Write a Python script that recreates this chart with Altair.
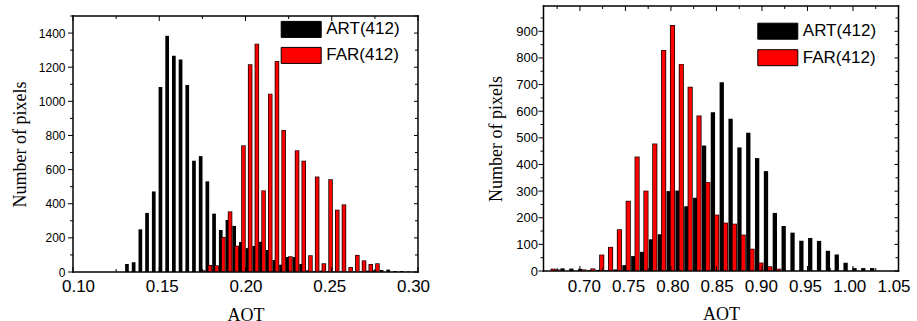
import altair as alt
import pandas as pd

SERIES = ["ART(412)", "FAR(412)"]
COLORS = ["#000000", "#ff0000"]

# ---- left panel (bin centres, counts) ----
left_aot = [0.130, 0.134, 0.138, 0.142, 0.146, 0.150, 0.154, 0.158, 0.162, 0.166,
            0.170, 0.174, 0.178, 0.182, 0.186, 0.190, 0.194, 0.198, 0.202, 0.206,
            0.210, 0.214, 0.218, 0.222, 0.226, 0.230, 0.234, 0.238, 0.242, 0.246,
            0.250, 0.254, 0.258, 0.262, 0.266, 0.270, 0.274, 0.278, 0.282, 0.286,
            0.290, 0.294, 0.298]
left_art = [47, 57, 250, 346, 472, 1084, 1384, 1267, 1245, 1095,
            652, 679, 531, 342, 246, 305, 270, 176, 140, 153,
            177, 129, 70, 43, 88, 88, 47, 10, 5, 8,
            4, 3, 3, 2, 3, 4, 8, 10, 12, 14,
            6, 6, 3]
left_far = [0, 0, 0, 0, 0, 0, 0, 0, 0, 0,
            0, 6, 37, 35, 201, 351, 150, 738, 1213, 1334,
            474, 1041, 1232, 828, 88, 709, 648, 94, 555, 47,
            539, 361, 392, 25, 96, 64, 43, 47, 0, 0,
            0, 0, 0]

# ---- right panel ----
right_aot = [0.663, 0.668, 0.678, 0.688, 0.698, 0.708, 0.718, 0.728, 0.738, 0.748,
             0.758, 0.768, 0.778, 0.788, 0.798, 0.808, 0.818, 0.828, 0.838, 0.848,
             0.858, 0.868, 0.878, 0.888, 0.898, 0.908, 0.918, 0.928, 0.938, 0.948,
             0.958, 0.968, 0.978, 0.988, 0.998, 1.008, 1.018, 1.028]
right_art = [0, 2, 10, 9, 8, 3, 4, 3, 6, 22,
             56, 72, 119, 138, 300, 302, 243, 275, 471, 596,
             709, 572, 464, 519, 424, 375, 218, 169, 144, 114,
             124, 113, 76, 62, 31, 11, 11, 11]
right_far = [6, 3, 0, 0, 3, 7, 59, 88, 154, 261,
             427, 299, 476, 827, 921, 775, 689, 581, 331, 209,
             179, 175, 134, 81, 29, 15, 6, 0, 0, 0,
             0, 0, 0, 0, 0, 0, 0, 0]

# tick positions (major = labelled, minor = unlabelled)
left_x_major = [0.10, 0.15, 0.20, 0.25, 0.30]
left_x_minor = [0.125, 0.175, 0.225, 0.275]
left_y_major = [0, 200, 400, 600, 800, 1000, 1200, 1400]
left_y_minor = [100, 300, 500, 700, 900, 1100, 1300, 1500]
right_x_major = [0.70, 0.75, 0.80, 0.85, 0.90, 0.95, 1.00, 1.05]
right_x_minor = [0.675, 0.725, 0.775, 0.825, 0.875, 0.925, 0.975, 1.025]
right_y_major = [0, 100, 200, 300, 400, 500, 600, 700, 800, 900]
right_y_minor = [50, 150, 250, 350, 450, 550, 650, 750, 850, 950]


def make_df(aot, art, far):
    rows = []
    for a, c in zip(aot, art):
        rows.append({"aot": a, "count": c, "series": SERIES[0]})
    for a, c in zip(aot, far):
        rows.append({"aot": a, "count": c, "series": SERIES[1]})
    return pd.DataFrame(rows)


SANS = "Liberation Sans"
SERIF = "Liberation Serif"


def panel(df, xdom, ydom, W, H, top, xmaj, xmin, ymaj, ymin, ylabfs, ylabpad,
          xlabpad, xtitlepad, ytitlepad, legX, legY, rowpad, barw, off):
    xs = alt.Scale(domain=xdom, nice=False, zero=False)
    ys = alt.Scale(domain=ydom, nice=False, zero=True, range=[H, top])
    legend = alt.Legend(
        title=None, orient="none", legendX=legX, legendY=legY, padding=0,
        rowPadding=rowpad, symbolType="M-2.5,-1H2.5V1H-2.5Z", symbolSize=256,
        symbolStrokeColor="black", symbolStrokeWidth=1, symbolOpacity=1,
        labelFont=SANS, labelFontSize=17, labelOffset=16.5, labelColor="black",
    )
    color = alt.Color("series:N", scale=alt.Scale(domain=SERIES, range=COLORS),
                      legend=legend)
    base = alt.Chart(df).transform_filter(alt.datum["count"] > 0)
    art = base.transform_filter(alt.datum.series == SERIES[0]).mark_bar(
        orient="vertical", width=barw, xOffset=-off
    ).encode(
        x=alt.X("aot:Q", scale=xs, axis=alt.Axis(
            title="AOT", values=xmaj, format=".2f",
            ticks=False, domain=False, grid=False,
            labelFont=SANS, labelFontSize=17, labelPadding=xlabpad,
            labelFlush=False, labelOverlap=False, labelColor="black",
            titleFont=SERIF, titleFontSize=18, titleFontWeight="normal",
            titlePadding=xtitlepad, titleColor="black")),
        y=alt.Y("count:Q", scale=ys, axis=alt.Axis(
            title="Number of pixels", values=ymaj, format="d",
            ticks=False, domain=False, grid=False,
            labelFont=SANS, labelFontSize=ylabfs, labelPadding=ylabpad,
            labelOverlap=False, labelColor="black",
            titleFont=SERIF, titleFontSize=18, titleFontWeight="normal",
            titlePadding=ytitlepad, titleColor="black")),
        color=color,
    )
    # red bars with a dark outline: dark bar underneath, slightly larger
    far_sel = base.transform_filter(alt.datum.series == SERIES[1])
    far_edge = far_sel.mark_bar(
        orient="vertical", width=barw + 0.8, xOffset=off, yOffset=-0.7,
        color="#1a0000", opacity=1
    ).encode(
        x=alt.X("aot:Q", scale=xs, axis=None),
        y=alt.Y("count:Q", scale=ys, axis=None),
    )
    far = far_sel.mark_bar(
        orient="vertical", width=barw - 0.8, xOffset=off
    ).encode(
        x=alt.X("aot:Q", scale=xs, axis=None),
        y=alt.Y("count:Q", scale=ys, axis=None),
        color=color,
    )

    def xticks(values, yval, L, up):
        return alt.Chart(pd.DataFrame({"v": values})).mark_tick(
            orient="vertical", size=L, thickness=1, color="black", opacity=1,
            yOffset=(-L / 2 if up else L / 2)
        ).encode(
            x=alt.X("v:Q", scale=xs, axis=None),
            y=alt.YDatum(yval, scale=ys, axis=None),
        )

    def yticks(values, xval, L, right):
        return alt.Chart(pd.DataFrame({"v": values})).mark_tick(
            orient="horizontal", size=L, thickness=1, color="black", opacity=1,
            xOffset=(L / 2 if right else -L / 2)
        ).encode(
            x=alt.XDatum(xval, scale=xs, axis=None),
            y=alt.Y("v:Q", scale=ys, axis=None),
        )

    def hline(yval):
        return alt.Chart(pd.DataFrame({"v": [yval]})).mark_tick(
            orient="horizontal", size=W + 1.5, thickness=1.5, color="black",
            opacity=1
        ).encode(
            x=alt.XDatum((xdom[0] + xdom[1]) / 2, scale=xs, axis=None),
            y=alt.Y("v:Q", scale=ys, axis=None),
        )

    def vline(xval):
        return alt.Chart(pd.DataFrame({"v": [xval]})).mark_tick(
            orient="vertical", size=(H - top) + 1.5, thickness=1.5,
            color="black", opacity=1
        ).encode(
            x=alt.X("v:Q", scale=xs, axis=None),
            y=alt.YDatum((ydom[0] + ydom[1]) / 2, scale=ys, axis=None),
        )

    layers = [
        art, far_edge, far,
        xticks(xmaj, ydom[0], 5, True), xticks(xmin, ydom[0], 3, True),
        xticks(xmaj, ydom[1], 5, False), xticks(xmin, ydom[1], 3, False),
        yticks(ymaj, xdom[0], 5, False), yticks(ymin, xdom[0], 3, False),
        yticks(ymaj, xdom[1], 4, False), yticks(ymin, xdom[1], 3, False),
        hline(ydom[0]), hline(ydom[1]), vline(xdom[0]), vline(xdom[1]),
    ]
    return alt.layer(*layers).resolve_scale(
        x="independent", y="independent"
    ).properties(width=W, height=H)


left = panel(make_df(left_aot, left_art, left_far), [0.10, 0.30], [0, 1500],
             345, 266, 10, left_x_major, left_x_minor, left_y_major, left_y_minor,
             12, 8, 6, 12, 8.5, 219.7, 14.9, 5, 3.7, 1.3)

right = panel(make_df(right_aot, right_art, right_far), [0.66, 1.05], [0, 995],
              355, 265, 0, right_x_major, right_x_minor, right_y_major,
              right_y_minor, 13, 6, 7, 11, 10, 225.8, 16.7, 5.5, 4.3, 1.9)

chart = alt.hconcat(left, right, spacing=57.5).resolve_scale(
    color="independent"
).properties(
    padding={"left": 11, "top": 5, "right": 0, "bottom": 0},
).configure_view(strokeWidth=0)

chart.save("out.html", embed_options={"renderer": "svg", "actions": False})
